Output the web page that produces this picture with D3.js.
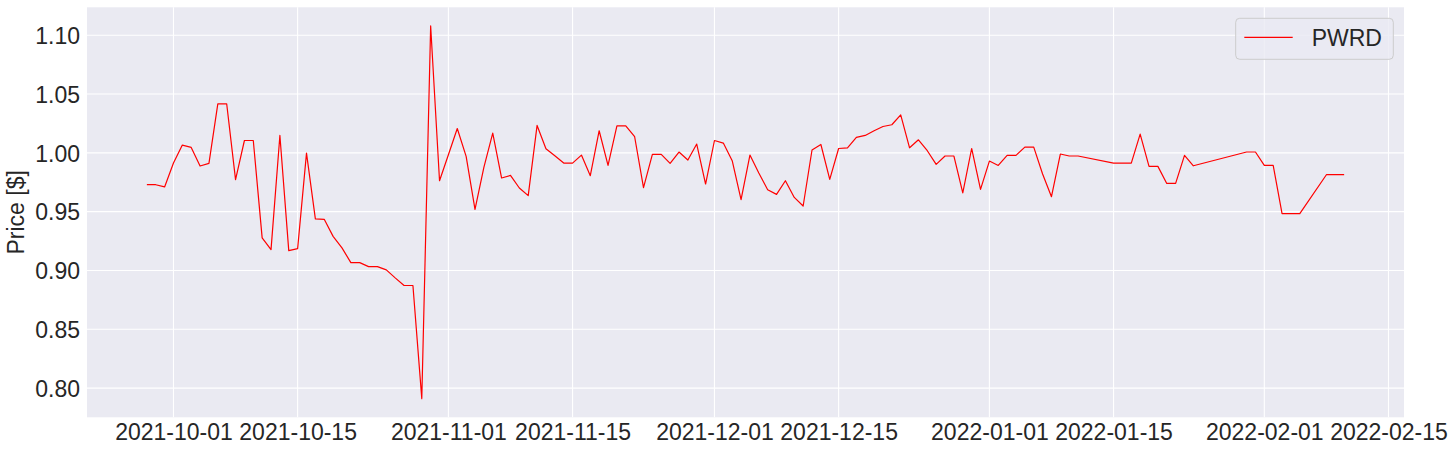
<!DOCTYPE html>
<html>
<head>
<meta charset="utf-8">
<script src="https://cdn.jsdelivr.net/npm/d3@7"></script>
<style>
  html, body { margin: 0; padding: 0; background: #ffffff; }
  svg { display: block; }
  text { font-family: "Liberation Sans", Arial, sans-serif; fill: #262626; }
</style>
</head>
<body>
<svg id="chart" width="1456" height="453"></svg>
<script>
// ---- data ----
const seriesName = "PWRD";
const dates = [
  "2021-09-28","2021-09-29","2021-09-30","2021-10-01","2021-10-02","2021-10-03","2021-10-04","2021-10-05",
  "2021-10-06","2021-10-07","2021-10-08","2021-10-09","2021-10-10","2021-10-11","2021-10-12","2021-10-13",
  "2021-10-14","2021-10-15","2021-10-16","2021-10-17","2021-10-18","2021-10-19","2021-10-20","2021-10-21",
  "2021-10-22","2021-10-23","2021-10-24","2021-10-25","2021-10-26","2021-10-27","2021-10-28","2021-10-29",
  "2021-10-30","2021-10-31","2021-11-01","2021-11-02","2021-11-03","2021-11-04","2021-11-05","2021-11-06",
  "2021-11-07","2021-11-08","2021-11-09","2021-11-10","2021-11-11","2021-11-12","2021-11-13","2021-11-14",
  "2021-11-15","2021-11-16","2021-11-17","2021-11-18","2021-11-19","2021-11-20","2021-11-21","2021-11-22",
  "2021-11-23","2021-11-24","2021-11-25","2021-11-26","2021-11-27","2021-11-28","2021-11-29","2021-11-30",
  "2021-12-01","2021-12-02","2021-12-03","2021-12-04","2021-12-05","2021-12-06","2021-12-07","2021-12-08",
  "2021-12-09","2021-12-10","2021-12-11","2021-12-12","2021-12-13","2021-12-14","2021-12-15","2021-12-16",
  "2021-12-17","2021-12-18","2021-12-19","2021-12-20","2021-12-21","2021-12-22","2021-12-23","2021-12-24",
  "2021-12-25","2021-12-26","2021-12-27","2021-12-28","2021-12-29","2021-12-30","2021-12-31","2022-01-01",
  "2022-01-02","2022-01-03","2022-01-04","2022-01-05","2022-01-06","2022-01-07","2022-01-08","2022-01-09",
  "2022-01-10","2022-01-11","2022-01-15","2022-01-16","2022-01-17","2022-01-18","2022-01-19","2022-01-20",
  "2022-01-21","2022-01-22","2022-01-23","2022-01-24","2022-01-30","2022-01-31","2022-02-01","2022-02-02",
  "2022-02-03","2022-02-04","2022-02-05","2022-02-08","2022-02-09","2022-02-10"
];
const prices = [
  0.9729,0.9729,0.9710,0.9913,1.0066,1.0046,0.9888,0.9910,
  1.0417,1.0417,0.9772,1.0105,1.0105,0.9277,0.9177,1.0148,
  0.9169,0.9186,0.9998,0.9438,0.9435,0.9290,0.9192,0.9067,
  0.9067,0.9033,0.9033,0.9005,0.8937,0.8872,0.8872,0.7910,
  1.1079,0.9763,0.9984,1.0207,0.9970,0.9520,0.9876,1.0168,
  0.9786,0.9808,0.9701,0.9636,1.0233,1.0035,0.9975,0.9913,
  0.9913,0.9981,0.9806,1.0188,0.9893,1.0230,1.0230,1.0137,
  0.9704,0.9987,0.9987,0.9910,1.0007,0.9939,1.0075,0.9735,
  1.0105,1.0083,0.9933,0.9602,0.9981,0.9829,0.9687,0.9647,
  0.9763,0.9621,0.9548,1.0024,1.0071,0.9775,1.0037,1.0043,
  1.0131,1.0148,1.0188,1.0224,1.0239,1.0323,1.0043,1.0111,
  1.0018,0.9902,0.9973,0.9973,0.9659,1.0037,0.9690,0.9930,
  0.9893,0.9978,0.9978,1.0049,1.0049,0.9820,0.9627,0.9990,
  0.9973,0.9973,0.9913,0.9913,0.9913,1.0159,0.9885,0.9885,
  0.9740,0.9740,0.9978,0.9890,1.0007,1.0007,0.9893,0.9893,
  0.9483,0.9483,0.9483,0.9814,0.9814,0.9814
];
const xTickLabels = ["2021-10-01","2021-10-15","2021-11-01","2021-11-15","2021-12-01",
                     "2021-12-15","2022-01-01","2022-01-15","2022-02-01","2022-02-15"];
const yTickValues = [0.80, 0.85, 0.90, 0.95, 1.00, 1.05, 1.10];
const yAxisLabel = "Price [$]";

// ---- layout ----
const plot = { left: 87, right: 1404, top: 7.3, bottom: 417.3 };
const parse = d3.utcParse("%Y-%m-%d");
const data = dates.map((d, i) => ({ date: parse(d), value: prices[i] }));

const xExt = d3.extent(data, d => d.date);
const xPad = (xExt[1] - xExt[0]) * 0.05;
const x = d3.scaleUtc()
  .domain([new Date(+xExt[0] - xPad), new Date(+xExt[1] + xPad)])
  .range([plot.left, plot.right]);

const yExt = d3.extent(data, d => d.value);
const yPad = (yExt[1] - yExt[0]) * 0.05;
const y = d3.scaleLinear()
  .domain([yExt[0] - yPad, yExt[1] + yPad])
  .range([plot.bottom, plot.top]);

const svg = d3.select("#chart");

// background
svg.append("rect")
  .attr("x", plot.left).attr("y", plot.top)
  .attr("width", plot.right - plot.left).attr("height", plot.bottom - plot.top)
  .attr("fill", "#eaeaf2");

const xTicks = xTickLabels.map(parse);

// grid lines
svg.append("g").selectAll("line").data(yTickValues).join("line")
  .attr("x1", plot.left).attr("x2", plot.right)
  .attr("y1", d => y(d)).attr("y2", d => y(d))
  .attr("stroke", "#ffffff").attr("stroke-width", 1.1);
svg.append("g").selectAll("line").data(xTicks).join("line")
  .attr("x1", d => x(d)).attr("x2", d => x(d))
  .attr("y1", plot.top).attr("y2", plot.bottom)
  .attr("stroke", "#ffffff").attr("stroke-width", 1.1);

// axes (d3 axes, domain hidden, tick lines hidden)
const xAxis = d3.axisBottom(x).tickValues(xTicks).tickSize(0).tickPadding(0)
  .tickFormat(d3.utcFormat("%Y-%m-%d"));
const gx = svg.append("g").attr("transform", `translate(0,${plot.bottom})`).call(xAxis);
gx.select(".domain").remove();
gx.selectAll("text")
  .attr("y", 23).attr("dy", null)
  .style("font-size", "23px").style("font-family", "'Liberation Sans', Arial, sans-serif")
  .attr("fill", "#262626");

const yAxis = d3.axisLeft(y).tickValues(yTickValues).tickSize(0).tickPadding(7)
  .tickFormat(d3.format(".2f"));
const gy = svg.append("g").attr("transform", `translate(${plot.left},0)`).call(yAxis);
gy.select(".domain").remove();
gy.selectAll("text")
  .attr("dy", "0.36em")
  .style("font-size", "23px").style("font-family", "'Liberation Sans', Arial, sans-serif")
  .attr("fill", "#262626");

// y label
svg.append("text")
  .attr("transform", `translate(24,${(plot.top + plot.bottom) / 2}) rotate(-90)`)
  .attr("text-anchor", "middle")
  .style("font-size", "23px")
  .text(yAxisLabel);

// line
const line = d3.line().x(d => x(d.date)).y(d => y(d.value));
svg.append("path").datum(data)
  .attr("d", line)
  .attr("fill", "none")
  .attr("stroke", "#ff0000")
  .attr("stroke-width", 1.2)
  .attr("stroke-linejoin", "round");

// legend
const lg = svg.append("g");
lg.append("rect")
  .attr("x", 1235.7).attr("y", 18.3).attr("width", 157.6).attr("height", 41)
  .attr("rx", 4).attr("ry", 4)
  .attr("fill", "rgba(234,234,242,0.8)")
  .attr("stroke", "#cccccc").attr("stroke-width", 1);
lg.append("line")
  .attr("x1", 1244.3).attr("x2", 1292.7).attr("y1", 37.3).attr("y2", 37.3)
  .attr("stroke", "#ff0000").attr("stroke-width", 1.2);
lg.append("text")
  .attr("x", 1311.7).attr("y", 45.8)
  .style("font-size", "23px")
  .text(seriesName);
</script>
</body>
</html>
